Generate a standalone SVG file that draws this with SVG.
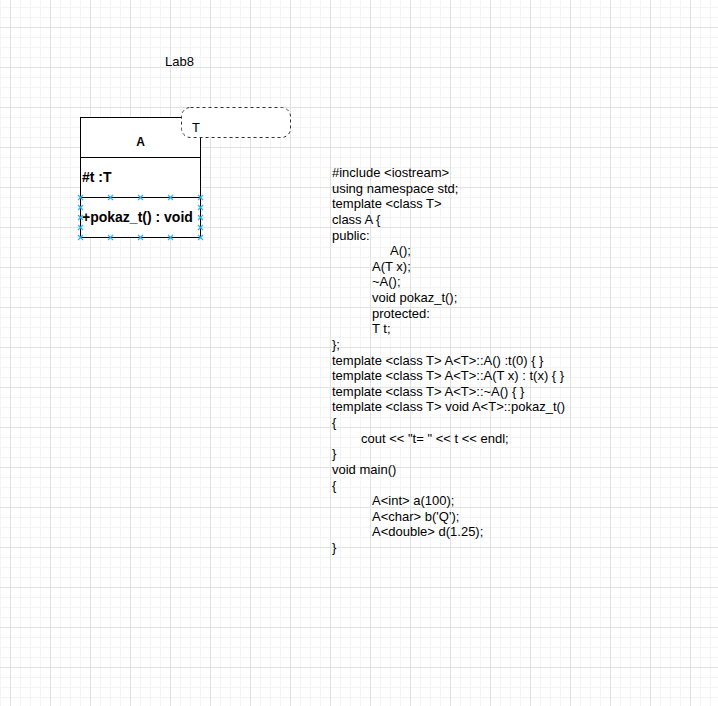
<svg xmlns="http://www.w3.org/2000/svg" width="718" height="706" viewBox="0 0 718 706">
  <style>
    .lbl { font-family: "Liberation Sans", Arial, sans-serif; font-size: 13px; fill: #000; }
    .bold { font-weight: bold; font-size: 14px; }
    .name { font-weight: bold; font-size: 12px; }
    .box { fill: #fff; stroke: #000; stroke-width: 1; }
    .sep { stroke: #000; stroke-width: 1; }
    .tpl { fill: #fff; stroke: #333; stroke-width: 1; stroke-dasharray: 3 3; }
    .hnd { stroke: #29b6f2; stroke-width: 1.2; fill: none; }
  </style>
  <defs>
    <pattern id="grid" x="10" y="27" width="40" height="40" patternUnits="userSpaceOnUse">
      <rect x="10" y="0" width="1" height="40" fill="#f4f4f4"/>
      <rect x="20" y="0" width="1" height="40" fill="#f4f4f4"/>
      <rect x="30" y="0" width="1" height="40" fill="#f4f4f4"/>
      <rect x="0" y="10" width="40" height="1" fill="#f4f4f4"/>
      <rect x="0" y="20" width="40" height="1" fill="#f4f4f4"/>
      <rect x="0" y="30" width="40" height="1" fill="#f4f4f4"/>
      <rect x="0" y="0" width="1" height="40" fill="#e2e2e2"/>
      <rect x="0" y="0" width="40" height="1" fill="#e2e2e2"/>
    </pattern>
    <path id="hx" d="M-2.5,-2.5 L2.5,2.5 M-2.5,2.5 L2.5,-2.5" class="hnd"/>
  </defs>

  <!-- canvas -->
  <rect x="0" y="0" width="718" height="706" fill="#fff"/>
  <rect x="0" y="0" width="718" height="706" fill="url(#grid)"/>

  <!-- title -->
  <g id="title">
    <text class="lbl" x="165" y="66">Lab8</text>
  </g>

  <!-- class A -->
  <g id="classA">
    <rect class="box" x="80.5" y="117.5" width="120" height="120"/>
    <line class="sep" x1="80.5" y1="157.5" x2="200.5" y2="157.5"/>
    <line class="sep" x1="80.5" y1="197.5" x2="200.5" y2="197.5"/>
    <text class="lbl name" x="140.5" y="146" text-anchor="middle">A</text>
    <text class="lbl bold" x="82" y="182">#t :T</text>
    <text class="lbl bold" x="82" y="222">+pokaz_t() : void</text>
    <!-- selection handles on the methods compartment -->
    <g>
      <use href="#hx" x="80.5" y="197.5"/><use href="#hx" x="110.5" y="197.5"/><use href="#hx" x="140.5" y="197.5"/><use href="#hx" x="170.5" y="197.5"/><use href="#hx" x="200.5" y="197.5"/>
      <use href="#hx" x="80.5" y="237.5"/><use href="#hx" x="110.5" y="237.5"/><use href="#hx" x="140.5" y="237.5"/><use href="#hx" x="170.5" y="237.5"/><use href="#hx" x="200.5" y="237.5"/>
      <use href="#hx" x="80.5" y="207.5"/><use href="#hx" x="80.5" y="217.5"/><use href="#hx" x="80.5" y="227.5"/>
      <use href="#hx" x="200.5" y="207.5"/><use href="#hx" x="200.5" y="217.5"/><use href="#hx" x="200.5" y="227.5"/>
    </g>
  </g>

  <!-- template parameter -->
  <g id="templateParam">
    <rect class="tpl" x="181.5" y="107.5" width="109" height="30" rx="9" ry="9"/>
    <text class="lbl" x="192" y="132" fill="#1c2a44">T</text>
  </g>

  <!-- source listing -->
  <g id="code" class="lbl">
    <text x="332" y="177">#include &lt;iostream&gt;</text>
    <text x="332" y="192.6">using namespace std;</text>
    <text x="332" y="208.2">template &lt;class T&gt;</text>
    <text x="332" y="223.9">class A {</text>
    <text x="332" y="239.5">public:</text>
    <text x="390" y="255.1">A();</text>
    <text x="372" y="270.7">A(T x);</text>
    <text x="372" y="286.4">~A();</text>
    <text x="372" y="302">void pokaz_t();</text>
    <text x="372" y="317.6">protected:</text>
    <text x="372" y="333.2">T t;</text>
    <text x="332" y="348.9">};</text>
    <text x="332" y="364.5">template &lt;class T&gt; A&lt;T&gt;::A() :t(0) { }</text>
    <text x="332" y="380.1">template &lt;class T&gt; A&lt;T&gt;::A(T x) : t(x) { }</text>
    <text x="332" y="395.7">template &lt;class T&gt; A&lt;T&gt;::~A() { }</text>
    <text x="332" y="411.4">template &lt;class T&gt; void A&lt;T&gt;::pokaz_t()</text>
    <text x="332" y="427">{</text>
    <text x="361" y="442.6">cout &lt;&lt; "t= " &lt;&lt; t &lt;&lt; endl;</text>
    <text x="332" y="458.2">}</text>
    <text x="332" y="473.9">void main()</text>
    <text x="332" y="489.5">{</text>
    <text x="372" y="505.1">A&lt;int&gt; a(100);</text>
    <text x="372" y="520.7">A&lt;char&gt; b('Q');</text>
    <text x="372" y="536.4">A&lt;double&gt; d(1.25);</text>
    <text x="332" y="552">}</text>
  </g>
</svg>
